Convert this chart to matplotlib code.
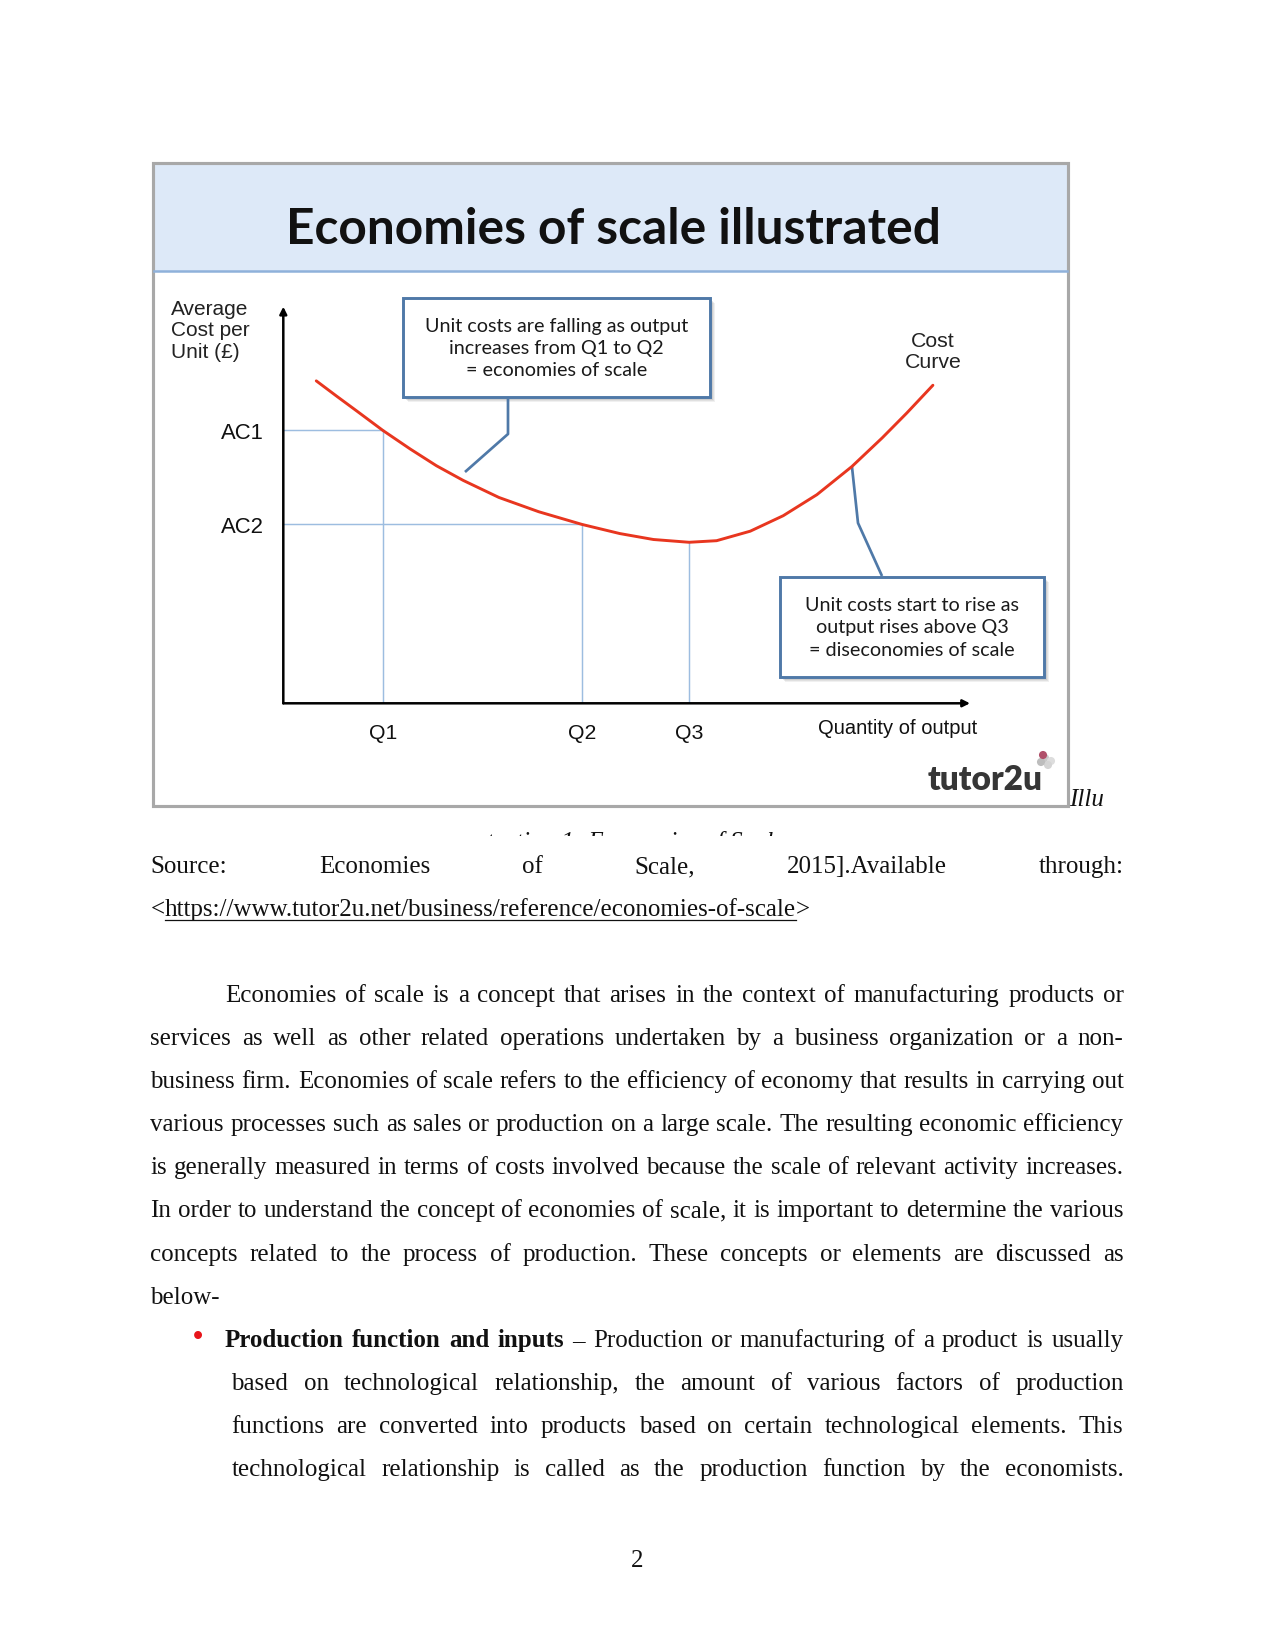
import numpy as np
import matplotlib
matplotlib.use('Agg')
import matplotlib.pyplot as plt
from matplotlib.patches import Rectangle, Circle

W, H = 1275, 1650

# cost curve (quantity and average cost on a 0-100 scale)
quantity = [4.8, 7.8, 10.7, 14.5, 18.5, 22.3, 26.2, 31.4, 37.2, 43.5, 49.0,
            53.9, 59.1, 63.1, 68.0, 72.8, 77.7, 82.8, 87.2, 90.8, 94.6]
avg_cost = [81.3, 77.4, 73.7, 68.8, 64.1, 59.9, 56.2, 51.9, 48.3, 45.1, 42.8,
            41.3, 40.6, 41.0, 43.4, 47.3, 52.6, 59.7, 66.9, 73.2, 80.2]
q_labels = ['Q1', 'Q2', 'Q3']
q_values = [14.5, 43.5, 59.1]
q_cost = [68.8, 45.1, 40.6]
ac_labels = ['AC1', 'AC2']
ac_values = [68.8, 45.1]

title = 'Economies of scale illustrated'
box1_text = 'Unit costs are falling as output\nincreases from Q1 to Q2\n= economies of scale'
box2_text = 'Unit costs start to rise as\noutput rises above Q3\n= diseconomies of scale'

source_words = ['Source:', 'Economies', 'of', 'Scale,', '2015].Available', 'through:']
url = 'https://www.tutor2u.net/business/reference/economies-of-scale'
para = [
    'Economies of scale is a concept that arises in the context of manufacturing products or',
    'services as well as other related operations undertaken by a business organization or a non-',
    'business firm. Economies of scale refers to the efficiency of economy that results in carrying out',
    'various processes such as sales or production on a large scale. The resulting economic efficiency',
    'is generally measured in terms of costs involved because the scale of relevant activity increases.',
    'In order to understand the concept of economies of scale, it is important to determine the various',
    'concepts related to the process of production. These concepts or elements are discussed as',
    'below-',
]
bullet_head = 'Production function and inputs'
bullet_lines = [
    '– Production or manufacturing of a product is usually',
    'based on technological relationship, the amount of various factors of production',
    'functions are converted into products based on certain technological elements. This',
    'technological relationship is called as the production function by the economists.',
]

SERIF = 'Liberation Serif'
SANS = 'Liberation Sans'
CAL = 'Lato'
BODY = 12

fig = plt.figure(figsize=(W / 150, H / 150), dpi=150)
page = fig.add_axes([0, 0, 1, 1])
page.set_xlim(0, W); page.set_ylim(H, 0); page.axis('off')
r = fig.canvas.get_renderer()

# ---- chart frame
page.add_patch(Rectangle((154, 164), 913, 107, facecolor='#dde9f8', edgecolor='none'))
page.plot([154, 1067], [271, 271], color='#8fb1da', lw=1.2)
page.add_patch(Rectangle((153, 163), 915, 643, facecolor='none', edgecolor='#a8a8a8', lw=1.5))
page.text(613, 230, title, fontsize=23.8, weight='bold', family=CAL, ha='center', va='center', color='#111111')

page.text(171, 331, 'Average\nCost per\nUnit (£)', fontsize=10, family=SANS, ha='left', va='center',
          linespacing=1.14, color='#222222')
page.text(933, 352, 'Cost\nCurve', fontsize=10.2, family=SANS, ha='center', va='center',
          linespacing=1.14, color='#222222')

def callout(x0, y0, x1, y1, txt):
    for k, a in [(5, 0.12), (4, 0.15), (3, 0.2)]:
        page.add_patch(Rectangle((x0 + k, y0 + k), x1 - x0, y1 - y0, facecolor='#888888',
                                 edgecolor='none', alpha=a))
    page.add_patch(Rectangle((x0, y0), x1 - x0, y1 - y0, facecolor='white', edgecolor='#4f79a8', lw=1.4))
    page.text((x0 + x1) / 2, (y0 + y1) / 2 + 1, txt, fontsize=9.5, family=CAL, ha='center', va='center',
              linespacing=1.36, color='#1a1a1a')

callout(403, 298, 710, 397, box1_text)
callout(780, 577, 1044, 677, box2_text)
page.plot([508, 508, 465], [399, 434, 472], color='#4f79a8', lw=1.3, solid_capstyle='butt')
page.plot([852, 858, 882], [467, 523, 576], color='#4f79a8', lw=1.3, solid_capstyle='butt')

# tutor2u logo
page.text(985, 780, 'tutor2u', fontsize=16, weight='heavy', family=CAL, ha='center', va='center',
          color='#363636')
for dx, dy, c in [(0, 0, '#c9c9c9'), (6, 3, '#dddddd'), (3, 7, '#d4d4d4'), (-4, 4, '#bdbdbd'), (-2, -3, '#b0506a')]:
    page.add_patch(Circle((1045 + dx, 758 + dy), 3, color=c))

# ---- plot area
ax = fig.add_axes([283.3 / W, 1 - 703.3 / H, 686.7 / W, 396.6 / H])
ax.set_xlim(0, 100); ax.set_ylim(0, 100); ax.axis('off'); ax.patch.set_alpha(0)
for q, c in zip(q_values, q_cost):
    ax.plot([q, q], [0, c], color='#9dbde0', lw=0.7)
for q, c in zip(q_values[:2], ac_values):
    ax.plot([0, q], [c, c], color='#9dbde0', lw=0.7)
ax.plot(quantity, avg_cost, color='#e8361f', lw=1.4, solid_capstyle='round', solid_joinstyle='round')
ax.annotate('', xy=(100, 0), xytext=(0, 0),
            arrowprops=dict(arrowstyle='-|>', lw=1.2, color='black', mutation_scale=7, shrinkA=0, shrinkB=0))
ax.annotate('', xy=(0, 100), xytext=(0, 0),
            arrowprops=dict(arrowstyle='-|>', lw=1.2, color='black', mutation_scale=7, shrinkA=0, shrinkB=0))
for lab, c in zip(ac_labels, ac_values):
    ax.text(-2.8, c - 0.8, lab, fontsize=10.6, family=SANS, ha='right', va='center', color='#111111')
for lab, q in zip(q_labels, q_values):
    ax.text(q, -7.5, lab, fontsize=10.2, family=SANS, ha='center', va='center', color='#111111')
ax.text(89.5, -6.3, 'Quantity of output', fontsize=9.7, family=SANS, ha='center', va='center', color='#111111')

# ---- document text
def place(tokens, x0, x1, y, justify=True):
    objs = [page.text(0, y, w, fontsize=BODY, family=SERIF, va='baseline', ha='left',
                      weight='bold' if b else 'normal', color='#111111') for w, b in tokens]
    widths = [t.get_window_extent(r).width for t in objs]
    if justify and len(objs) > 1:
        gap = (x1 - x0 - sum(widths)) / (len(objs) - 1)
    else:
        gap = page.text(0, 0, ' ', fontsize=BODY, family=SERIF).get_window_extent(r).width
    x = x0
    for t, w in zip(objs, widths):
        t.set_x(x)
        x += w + gap
    return objs

L, R, DY = 150.4, 1123.5, 43.1
page.text(1069, 806, 'Illu', fontsize=BODY, family=SERIF, style='italic', va='baseline', color='#111111')
page.text(631, 831, 'stration 1: Economies of Scale', fontsize=BODY, family=SERIF, style='italic',
          ha='center', va='top', color='#111111')
page.add_patch(Rectangle((400, 836), 500, 18, facecolor='white', edgecolor='none', zorder=5))

place([(w, False) for w in source_words], L, R, 873)
t1 = page.text(L, 916, '<', fontsize=BODY, family=SERIF, va='baseline', color='#111111')
x = L + t1.get_window_extent(r).width
t2 = page.text(x, 916, url, fontsize=BODY, family=SERIF, va='baseline', color='#111111')
w2 = t2.get_window_extent(r).width
page.plot([x, x + w2], [919.5, 919.5], color='#111111', lw=0.6)
page.text(x + w2, 916, '>', fontsize=BODY, family=SERIF, va='baseline', color='#111111')

y = 1002
for i, s in enumerate(para):
    x0 = 225 if i == 0 else L
    place([(w, False) for w in s.split()], x0, R, y, justify=(i < len(para) - 1))
    y += DY

page.text(198, y - 2, '•', fontsize=BODY + 2, family=SANS, color='#e8141a', ha='center', va='baseline')
place([(w, True) for w in bullet_head.split()] + [(w, False) for w in bullet_lines[0].split()], 225, R, y)
y += DY
for s in bullet_lines[1:]:
    place([(w, False) for w in s.split()], 231.5, R, y)
    y += DY

page.text(637.5, 1567, '2', fontsize=BODY, family=SERIF, ha='center', va='baseline', color='#111111')

fig.savefig('out.png', dpi=150, facecolor='white')
